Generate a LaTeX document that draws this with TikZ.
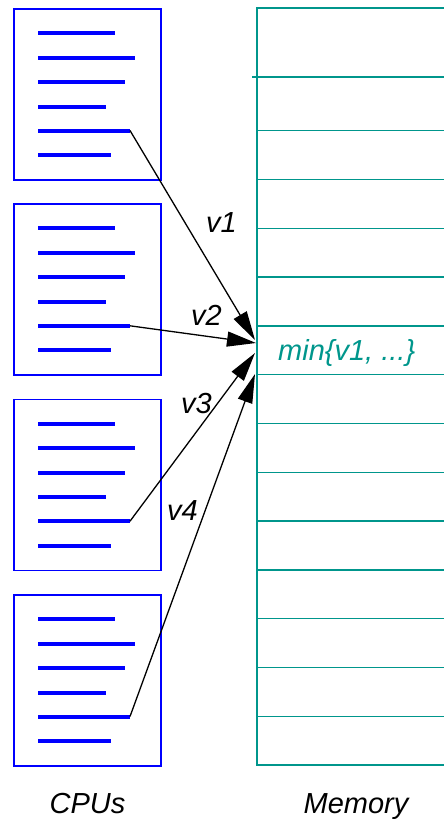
\documentclass[tikz,border=0pt]{standalone}
\usepackage{fontspec}
\setmainfont{Liberation Sans}
\usetikzlibrary{arrows.meta}
\definecolor{memteal}{RGB}{0,150,140}
\definecolor{cpublue}{RGB}{0,0,255}
\tikzset{
  cpubox/.style={draw=cpublue, line width=1.5pt, minimum width=147pt, minimum height=171pt, inner sep=0pt, anchor=north west},
  codeline/.style={cpublue, line width=4pt},
  memline/.style={memteal, line width=1.5pt},
  conn/.style={black, line width=1.3pt, -{Triangle[length=29pt,width=15pt]}},
  lbl/.style={font=\fontsize{29}{31}\selectfont\itshape, inner sep=0pt},
}
\begin{document}
\begin{tikzpicture}[x=1pt,y=-1pt]
\useasboundingbox (0,0) rectangle (444,819);
% CPU boxes
\foreach \i/\t in {1/8,2/203.3,3/398.7,4/594}{
  \node[cpubox] (cpu\i) at (13,\t) {};
  \draw[codeline] (38,\t+25) -- (115,\t+25);
  \draw[codeline] (38,\t+49.5) -- (135,\t+49.5);
  \draw[codeline] (38,\t+74) -- (125,\t+74);
  \draw[codeline] (38,\t+98.5) -- (105.5,\t+98.5);
  \draw[codeline] (38,\t+122.5) -- (130,\t+122.5);
  \draw[codeline] (38,\t+147) -- (110.5,\t+147);
  \coordinate (s\i) at (130,\t+122.5);
}
% Memory
\draw[memline] (444,8) -- (257,8) -- (257,765) -- (444,765);
\draw[memline] (252,77) -- (444,77);
\foreach \k in {0,...,12}{
  \draw[memline] (257,130.7+48.8*\k) -- (444,130.7+48.8*\k);
}
\node[lbl, text=memteal, anchor=base west] (minv) at (278,360) {min\{v1, ...\}};
% targets
\coordinate (t1) at (255,340);
\coordinate (t2) at (256,343);
\coordinate (t3) at (255,353);
\coordinate (t4) at (255,374);
\draw[conn] (s1) -- (t1);
\draw[conn] (s2) -- (t2);
\draw[conn] (s3) -- (t3);
\draw[conn] (s4) -- (t4);
% labels
\node[lbl, anchor=base west] (v1) at (206,232) {v1};
\node[lbl, anchor=base west] (v2) at (191,325) {v2};
\node[lbl, anchor=base west] (v3) at (181,413) {v3};
\node[lbl, anchor=base west] (v4) at (167,520) {v4};
\node[lbl, anchor=base] (cpus) at (87.5,813) {CPUs};
\node[lbl, anchor=base] (mem) at (356,813) {Memory};
\end{tikzpicture}
\end{document}
